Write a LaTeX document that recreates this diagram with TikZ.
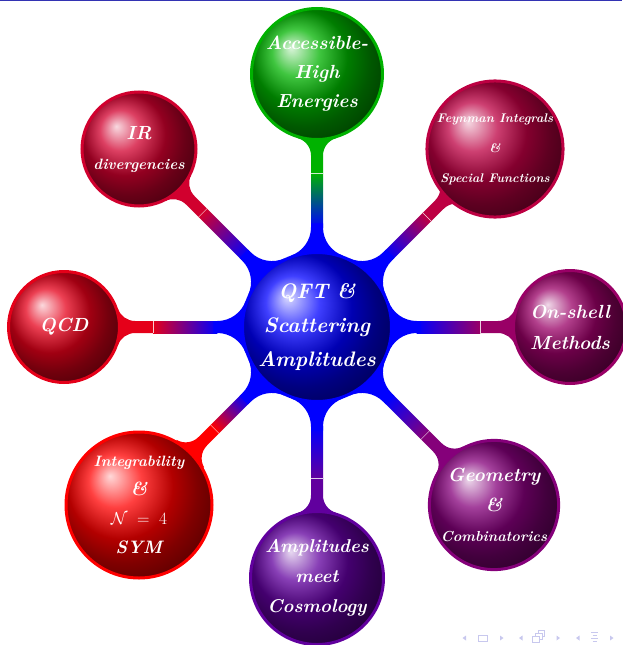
\documentclass[tikz,border=0pt]{standalone}
\usepackage{amsmath}
\usepackage{fontspec}
\definecolor{cblue}{RGB}{0,0,255}
\colorlet{cgreen}{green!70!black}
\colorlet{cfeyn}{red!74!blue}
\colorlet{cir}{red!82!blue}
\colorlet{cqcd}{red!90!blue}
\colorlet{conshell}{red!60!blue}
\colorlet{cgeom}{red!52!blue}
\colorlet{cint}{red}
\colorlet{camp}{blue!62!red}
\definecolor{navc}{RGB}{200,200,238}
\definecolor{framec}{RGB}{51,51,179}
\newcommand{\fsz}[2]{\fontsize{#1}{#2}\selectfont}
% #1 angle, #2 distance, #3 child radius, #4 colour
\newcommand{\connector}[4]{%
  % centre-side fillet (R=76, rho=30, w=6)
  \pgfmathsetmacro\xf{sqrt((76+30)^2-(36)^2)}%
  \pgfmathsetmacro\alf{atan(36/\xf)}%
  \pgfmathsetmacro\xo{76/106*\xf}%
  \pgfmathsetmacro\yo{76/106*36}%
  \pgfmathsetmacro\xfa{\xf+4}%
  % child-side fillet (rho=18)
  \pgfmathsetmacro\dd{sqrt((#3+18)^2-24^2)}%
  \pgfmathsetmacro\xfc{#2-\dd}%
  \pgfmathsetmacro\gam{atan(24/\dd)}%
  \pgfmathsetmacro\qx{\xfc+18*cos(\gam)}%
  \pgfmathsetmacro\qy{24-18*sin(\gam)}%
  \pgfmathsetmacro\xs{#2-#3-32}%
  \begin{scope}[transform canvas={shift={(317pt,-327pt)},rotate=#1}]
    \fill[#4] (\xs,6) -- (\xfc,6) arc[start angle=270, end angle=360-\gam, radius=18]
      -- (#2,0) -- (\qx,-\qy) arc[start angle=\gam, end angle=90, radius=18]
      -- (\xs,-6) -- cycle;
    \shade[left color=cblue, right color=#4] (\xf,6) -- (\xs,6) -- (\xs,-6) -- (\xf,-6) -- cycle;
    \fill[cblue] (\xo,\yo) arc[start angle=180+\alf, end angle=270, radius=30]
      -- (\xfa,6) -- (\xfa,-6) -- (\xf,-6) arc[start angle=90, end angle=180-\alf, radius=30] -- cycle;
    \draw[white, line width=0.5pt, opacity=0.8] (\xs,-6) -- (\xs,6);
  \end{scope}}
\tikzset{
  concept/.style={circle, inner sep=0pt, text=white, align=center,
    font=\bfseries\itshape, line width=3pt, draw=#1, ball color=#1},
  navsym/.style={navc, line width=0.8pt}
}
\begin{document}
\begin{tikzpicture}[x=1pt,y=-1pt]
\useasboundingbox (0,0) rectangle (622,645);
\fill[framec] (0,0) rectangle (622,1.3);
% connectors
\connector{90}{253}{67}{cgreen}
\connector{45}{252}{64.5}{cfeyn}
\connector{135}{252}{58.5}{cir}
\connector{180}{253}{57}{cqcd}
\connector{0}{253}{58}{conshell}
\connector{-45}{251}{66}{cgeom}
\connector{-135}{251}{74.5}{cint}
\connector{-90}{251}{68}{camp}
% nodes
\node[concept=cblue, minimum size=149pt, font=\bfseries\itshape\fsz{21}{34}] (qft) at (317,327)
  {QFT \&\\Scattering\\Amplitudes};
\node[concept=cgreen, minimum size=131pt, font=\bfseries\itshape\fsz{19}{29}] (acc) at (317,74)
  {Accessible-\\High\\Energies};
\node[concept=cfeyn, minimum size=126pt, font=\bfseries\itshape\fsz{12.5}{30}] (feyn) at (495,149)
  {Feynman Integrals\\\&\\Special Functions};
\node[concept=cir, minimum size=114pt, font=\bfseries\itshape\fsz{15}{30}] (ir) at (139,149)
  {{\fsz{19}{30}IR}\\divergencies};
\node[concept=cqcd, minimum size=111pt, font=\bfseries\itshape\fsz{19}{30}] (qcd) at (64,327)
  {QCD};
\node[concept=conshell, minimum size=113pt, font=\bfseries\itshape\fsz{19}{31}] (onshell) at (570,327)
  {On-shell\\Methods};
\node[concept=cgeom, minimum size=129pt, font=\bfseries\itshape\fsz{19}{30}] (geom) at (494,505)
  {Geometry\\\&\\{\fsz{14.5}{30}Combinatorics}};
\node[concept=cint, minimum size=146pt, font=\bfseries\itshape\fsz{15}{29}] (integ) at (139,505)
  {Integrability\\{\fsz{19}{29}\&}\\{\fsz{17}{29}\normalfont$\mathcal{N}\;=\;4$}\\{\fsz{18}{29}SYM}};
\node[concept=camp, minimum size=133pt, font=\bfseries\itshape\fsz{18.5}{30}] (amp) at (317,578)
  {Amplitudes\\meet\\Cosmology};
% navigation symbols
\fill[navc] (466,635.5) -- (462.5,638) -- (466,640.5) -- cycle;
\draw[navsym] (478.5,635.5) rectangle (487,641);
\fill[navc] (500,635.5) -- (503.5,638) -- (500,640.5) -- cycle;
\fill[navc] (522.5,635.5) -- (519,638) -- (522.5,640.5) -- cycle;
\draw[navsym] (532,636) rectangle (539,642);
\draw[navsym] (535,636) -- (535,633) -- (542,633) -- (542,639) -- (539,639);
\draw[navsym] (538,633) -- (538,630.5) -- (544.5,630.5) -- (544.5,636) -- (542,636);
\fill[navc] (556.5,635.5) -- (560,638) -- (556.5,640.5) -- cycle;
\fill[navc] (579.5,635.5) -- (576,638) -- (579.5,640.5) -- cycle;
\draw[navsym] (591,632) -- (598,632);
\draw[navsym] (592.5,635) -- (597,635);
\draw[navsym] (591,638) -- (598,638);
\draw[navsym] (592.5,641) -- (597,641);
\fill[navc] (610,635.5) -- (613.5,638) -- (610,640.5) -- cycle;
\end{tikzpicture}
\end{document}
